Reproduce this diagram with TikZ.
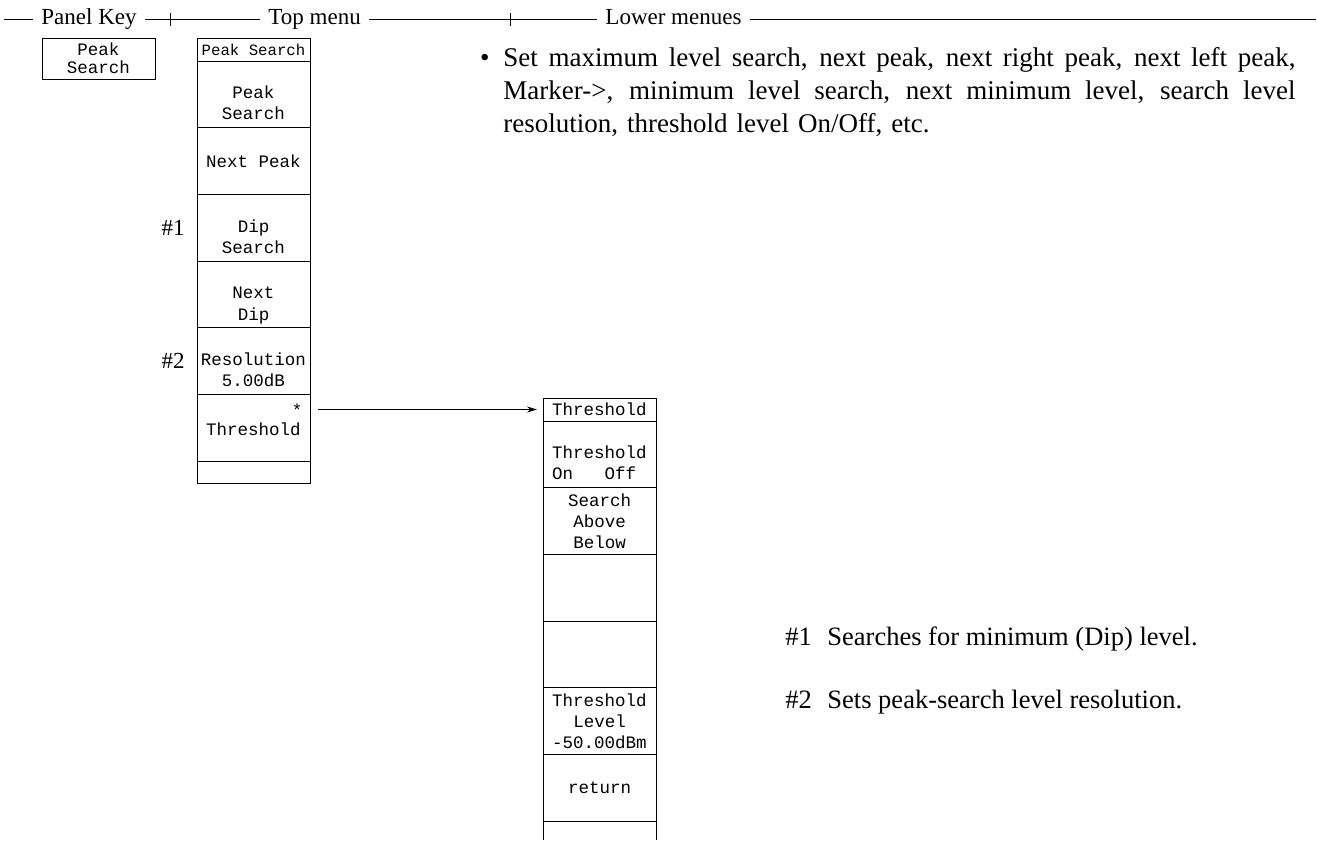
\documentclass[tikz,border=0pt]{standalone}
\usepackage{fontspec}
\setmainfont{Liberation Serif}
\newfontfamily\menumono{Liberation Mono}
\usepackage{tikz}
\usetikzlibrary{arrows.meta,positioning}
\newcommand{\cellfont}{\menumono\fontsize{17.5}{21.3}\selectfont}
\newcommand{\fullline}[1]{\leavevmode\hbox to 792pt{\spaceskip=6.75pt plus 1fil\relax #1}}

\begin{document}
\begin{tikzpicture}[x=1pt,y=-1pt,line width=0.9pt,
  cell/.style={draw,outer sep=0pt,inner sep=0pt,minimum width=113pt,
               minimum height=66.7pt,align=center,font=\cellfont},
  ttl/.style={cell,minimum height=23pt},
  hdr/.style={inner xsep=8pt,inner ysep=0pt,text height=16pt,text depth=5pt,
              font=\fontsize{23}{27}\selectfont,anchor=west},
  numtag/.style={font=\fontsize{23}{27}\selectfont,inner sep=0pt},
  notes/.style={font=\fontsize{26.5}{32}\selectfont,inner sep=0pt,anchor=base west},
  arr/.style={-{Stealth[length=10pt,width=6pt]}}]
\useasboundingbox (0,0) rectangle (1317,843);

% header line
\node[hdr] (hpk) at (33,19.5) {Panel Key};
\node[hdr] (htm) at (260,19.5) {Top menu};
\node[hdr] (hlm) at (597,19.5) {Lower menues};
\draw (4,19.5) -- (hpk.west);
\draw (hpk.east) -- (htm.west) (htm.east) -- (hlm.west) (hlm.east) -- (1316,19.5);
\draw (170,13) -- (170,26) (510,13) -- (510,26);

% panel key
\node[cell,minimum height=41pt,font=\menumono\fontsize{17.5}{18}\selectfont] (key)
  at (98.5,58.5) {Peak\\Search};

% top menu
\node[ttl,anchor=north,font=\menumono\fontsize{15.7}{18}\selectfont] (top)
  at (253.5,38) {Peak Search};
\node[cell,below=0pt of top] (ps) {\strut\\Peak\\Search\strut};
\node[cell,below=0pt of ps] (np) {Next Peak};
\node[cell,below=0pt of np] (ds) {\strut\\Dip\\Search\strut};
\node[cell,below=0pt of ds] (nd) {\strut\\Next\\Dip\strut};
\node[cell,below=0pt of nd] (res) {\strut\\Resolution\\5.00dB\strut};
\node[cell,below=0pt of res] (thr) {\strut\\Threshold\\\mbox{}};
\node[font=\cellfont,inner sep=0pt] (star) at ([xshift=-13pt,yshift=-16pt]thr.north east) {*};
\node[cell,below=0pt of thr,minimum height=22pt] (tend) {};
\node[numtag,left=12pt of ds] (t1) {\#1};
\node[numtag,left=12pt of res] (t2) {\#2};

% threshold menu
\node[ttl,anchor=north] (tt) at (599.5,398) {Threshold};
\node[cell,below=0pt of tt] (ton) {\strut\\Threshold\\On~~~Off\hphantom{x}\strut};
\node[cell,below=0pt of ton] (tsa) {Search\\Above\\Below};
\node[cell,below=0pt of tsa] (te1) {};
\node[cell,below=0pt of te1] (te2) {};
\node[cell,below=0pt of te2] (tlv) {Threshold\\Level\\-50.00dBm};
\node[cell,below=0pt of tlv] (ret) {return};
\draw (ret.south west) -- ++(0,18.8) (ret.south east) -- ++(0,18.8);

\draw[arr,shorten <=8pt,shorten >=6pt] (thr.east |- tt.west) -- (tt.west);

% lower menu text
\node[anchor=north west,inner sep=0pt,text width=792pt,align=left,
      font=\fontsize{27}{33}\selectfont] (desc) at (503,46.6)
  {\llap{\textbullet\hspace{14pt}}\fullline{Set maximum level search, next peak, next right peak, next left peak,}\\
   \fullline{Marker->, minimum level search, next minimum level, search level}\\
   resolution, threshold level On/Off, etc.};

\node[notes] (n1) at (785,645) {\makebox[42pt][l]{\#1}Searches for minimum (Dip) level.};
\node[notes] (n2) at ([yshift=-63pt]n1.base west) {\makebox[42pt][l]{\#2}Sets peak-search level resolution.};
\end{tikzpicture}
\end{document}
